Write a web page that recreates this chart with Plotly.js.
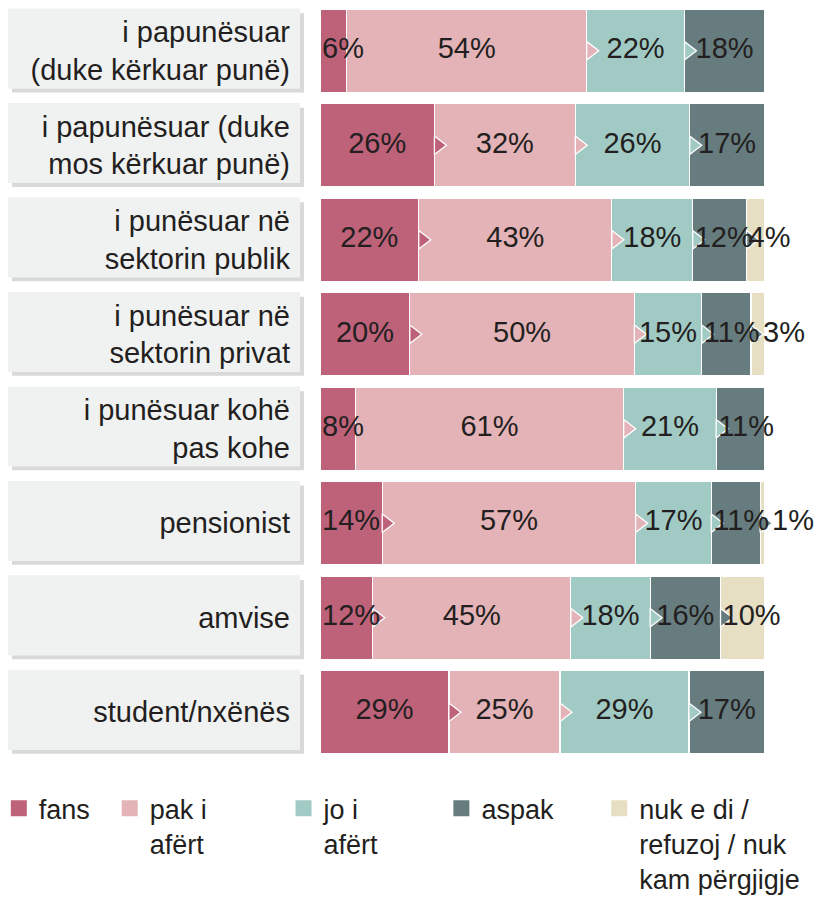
<!DOCTYPE html>
<html>
<head>
<meta charset="utf-8">
<script src="https://cdn.plot.ly/plotly-3.0.1.min.js"></script>
<style>html,body{margin:0;padding:0;background:#fff;}</style>
</head>
<body>
<div id="chart" style="width:818px;height:898px;"></div>
<script>
const categories = [
  "i papunësuar<br>(duke kërkuar punë)",
  "i papunësuar (duke<br>mos kërkuar punë)",
  "i punësuar në<br>sektorin publik",
  "i punësuar në<br>sektorin privat",
  "i punësuar kohë<br>pas kohe",
  "pensionist",
  "amvise",
  "student/nxënës"
];
const seriesNames = ["fans", "pak i<br>afërt", "jo i<br>afërt", "aspak", "nuk e di /<br>refuzoj / nuk<br>kam përgjigje"];
const fans    = [6, 26, 22, 20, 8, 14, 12, 29];
const pakAfert = [54, 32, 43, 50, 61, 57, 45, 25];
const joAfert = [22, 26, 18, 15, 21, 17, 18, 29];
const aspak   = [18, 17, 12, 11, 11, 11, 16, 17];
const nukDi   = [0, 0, 4, 3, 0, 1, 10, 0];

const series = [fans, pakAfert, joAfert, aspak, nukDi];
const colors = ["#be627a", "#e3b3b7", "#a2cac5", "#667c7f", "#e7dfc4"];
const textColor = "#231f20";
const FONT = "Liberation Sans, Arial, Helvetica, sans-serif";
const FS = 29;
const LFS = 27;
const barW = 445;           // pixels for 100 %
const xMax = 110;           // axis extends past 100 % to leave room for outside labels
const plotW = barW * xMax / 100;
const pxToData = 100 / barW;

const traces = [];
series.forEach((vals, s) => {
  traces.push({
    type: "bar",
    orientation: "h",
    y: categories,
    x: vals,
    name: seriesNames[s],
    marker: {color: colors[s], line: {color: "#ffffff", width: 1.2}},
    showlegend: false,
    hoverinfo: "skip"
  });
});

// chevron notches and value labels, positioned from each row's normalized stack (as barnorm does)
const chevX = [], chevY = [], chevC = [];
const chevSize = 16;
const chevOffset = (chevSize / 4) * pxToData;
const labX = [], labY = [], labT = [], labP = [];
categories.forEach((c, i) => {
  const total = series.reduce((a, sv) => a + sv[i], 0);
  let cum = 0;
  for (let s = 0; s < series.length; s++) {
    const v = series[s][i];
    const start = cum / total * 100;
    cum += v;
    const end = cum / total * 100;
    if (v > 0) {
      const wPx = (end - start) / pxToData;
      const txt = v + "%";
      const textW = (String(v).length * 0.556 + 0.889) * FS;
      if (s === series.length - 1 && wPx < 15) {
        labX.push(start + 12 * pxToData); labP.push("middle right");
      } else if (wPx >= textW + 6) {
        labX.push((start + end) / 2); labP.push("middle center");
      } else {
        labX.push(start + 2 * pxToData); labP.push("middle right");
      }
      labY.push(c); labT.push(txt);
    }
    if (s < series.length - 1) {
      const rest = series.slice(s + 1).reduce((a, sv) => a + sv[i], 0);
      if (v >= 10 && rest > 0) {
        chevX.push(end + chevOffset);
        chevY.push(c);
        chevC.push(colors[s]);
      }
    }
  }
});
traces.push({
  type: "scatter",
  mode: "markers",
  x: chevX,
  y: chevY,
  marker: {symbol: "triangle-right", size: chevSize, color: chevC, line: {color: "#ffffff", width: 1.3}},
  showlegend: false,
  hoverinfo: "skip",
  cliponaxis: false
});
traces.push({
  type: "scatter",
  mode: "text",
  x: labX,
  y: labY,
  text: labT,
  textposition: labP,
  textfont: {family: FONT, size: FS, color: textColor},
  showlegend: false,
  hoverinfo: "skip",
  cliponaxis: false
});

// legend entries (one legend per entry to match the spacing); left edges in pixels
const legendIds = ["legend", "legend2", "legend3", "legend4", "legend5"];
const legendLeftPx = [-1.5, 109.5, 283.5, 441.5, 599.5];
seriesNames.forEach((n, s) => {
  traces.push({
    type: "scatter",
    mode: "markers",
    x: [null], y: [null],
    name: n,
    legend: legendIds[s],
    marker: {symbol: "square", size: 16, color: colors[s]},
    showlegend: true,
    hoverinfo: "skip"
  });
});

const shapes = [];
categories.forEach((c, i) => {
  shapes.push({
    type: "rect", layer: "below",
    xref: "paper", xsizemode: "pixel", xanchor: 0, x0: -308, x1: -16,
    yref: "y", y0: i - 0.44 + 0.042, y1: i + 0.44,
    fillcolor: "#d9d9d9", line: {width: 0}
  });
  shapes.push({
    type: "rect", layer: "below",
    xref: "paper", xsizemode: "pixel", xanchor: 0, x0: -312, x1: -20,
    yref: "y", y0: i - 0.44 - 0.008, y1: i + 0.44 - 0.04,
    fillcolor: "#f0f1f1", line: {width: 0}
  });
});

const marginL = 320;
const layout = {
  width: 818, height: 898,
  margin: {l: marginL, r: 818 - marginL - plotW, t: 3, b: 138, pad: 0, autoexpand: false},
  paper_bgcolor: "#ffffff",
  plot_bgcolor: "rgba(0,0,0,0)",
  barmode: "stack",
  barnorm: "percent",
  bargap: 0.12,
  font: {family: FONT, size: FS, color: textColor},
  xaxis: {range: [0, xMax], visible: false, fixedrange: true},
  yaxis: {
    autorange: "reversed", showgrid: false, zeroline: false, showline: false,
    ticks: "", ticklabelstandoff: 29, fixedrange: true, automargin: false,
    tickfont: {family: FONT, size: FS, color: textColor}
  },
  shapes: shapes,
  hovermode: false
};
legendIds.forEach((id, s) => {
  layout[id] = {
    x: (legendLeftPx[s] - marginL) / plotW, xanchor: "left",
    y: -0.032, yanchor: "top",
    orientation: "v",
    valign: "top",
    bgcolor: "rgba(0,0,0,0)",
    font: {family: FONT, size: LFS, color: textColor},
    itemclick: false, itemdoubleclick: false
  };
});

Plotly.newPlot("chart", traces, layout, {displayModeBar: false, staticPlot: true});
</script>
</body>
</html>
